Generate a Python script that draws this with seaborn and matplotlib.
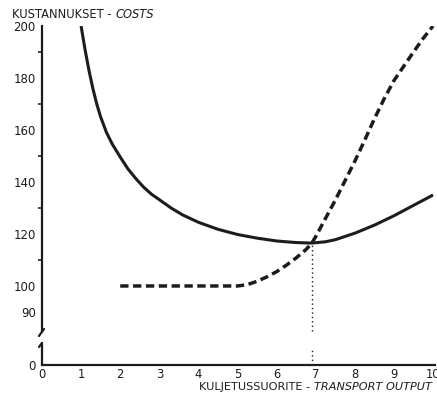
import numpy as np
import matplotlib
matplotlib.use("Agg")
import matplotlib.pyplot as plt
from matplotlib.lines import Line2D
from matplotlib.scale import FuncScale
import seaborn as sns
import pandas as pd

# ---- data ----
avg_x = [1.0, 1.1, 1.2, 1.3, 1.4, 1.5, 1.65, 1.8, 2.0, 2.2, 2.4, 2.6, 2.8, 3.0, 3.3, 3.6,
         4.0, 4.5, 5.0, 5.5, 6.0, 6.5, 6.9, 7.25, 7.5, 8.0, 8.5, 9.0, 9.5, 10.0]
avg_y = [200, 191, 183, 176, 170, 165, 159, 154.5, 149.6, 145, 141.3, 138, 135.3, 133.2, 130, 127.3,
         124.5, 121.8, 119.8, 118.4, 117.3, 116.7, 116.5, 117, 117.8, 120.3, 123.4, 127, 131, 135]

mc_x = [2.0, 3.0, 4.0, 5.0, 5.25, 5.5, 5.75, 6.0, 6.25, 6.5, 6.75, 6.9, 7.0, 7.25, 7.5,
        7.75, 8.0, 8.25, 8.5, 8.75, 9.0, 9.25, 9.5, 9.75, 10.0]
mc_y = [100, 100, 100, 100, 100.5, 101.8, 103.5, 105.5, 108, 110.8, 114, 116.5, 119, 126, 133,
        140.5, 148, 156, 164.3, 172, 179, 184.5, 190, 195.3, 200]

x_ticks = list(range(0, 11))
y_ticks = [0, 90, 100, 120, 140, 160, 180, 200]
y_minor = [110, 130, 150, 170, 190]
equilibrium_x = 6.9
equilibrium_y = 116.5

y_title = ("KUSTANNUKSET - ", "COSTS")
x_title = ("KULJETUSSUORITE - ", "TRANSPORT OUTPUT")

sns.set_theme(style="white")
plt.rcParams['font.family'] = ['DejaVu Sans']
INK = "#1c1c1c"

W, H = 437, 395
fig = plt.figure(figsize=(W / 100, H / 100), dpi=100)
fig.patch.set_facecolor("white")
ax = fig.add_axes([42 / W, 1 - 365 / H, 393 / W, (365 - 26) / H])
ax.set_facecolor("white")

# broken y axis: compress the 0..80 region
def fwd(y):
    return np.interp(y, [-1000, 0, 80, 1000], [69.6 - 130, 69.6, 80, 1000])

def inv(y):
    return np.interp(y, [69.6 - 130, 69.6, 80, 1000], [-1000, 0, 80, 1000])

ax.set_yscale(FuncScale(ax.yaxis, (fwd, inv)))
ax.set_ylim(0, 200)
ax.set_xlim(0, 10.05)

df_avg = pd.DataFrame({"x": avg_x, "y": avg_y})
df_mc = pd.DataFrame({"x": mc_x, "y": mc_y})
sns.lineplot(data=df_avg, x="x", y="y", ax=ax, color=INK, linewidth=2.2,
             errorbar=None, sort=True, solid_capstyle="butt", solid_joinstyle="round")
sns.lineplot(data=df_mc, x="x", y="y", ax=ax, color=INK, linewidth=2.5,
             errorbar=None, sort=True, linestyle=(0, (2.4, 1.3)), dash_capstyle="butt")

# dotted drop line from the intersection
ax.vlines(equilibrium_x, 82.5, equilibrium_y, colors=INK, linestyles=(0, (1, 2.2)), linewidth=1)
ax.vlines(equilibrium_x, 0, 50, colors=INK, linestyles=(0, (1, 2.2)), linewidth=1)

# axes styling
for s in ("top", "right"):
    ax.spines[s].set_visible(False)
ax.spines["left"].set_bounds(82.5, 200)
ax.spines["left"].set_linewidth(1.6)
ax.spines["bottom"].set_linewidth(1.6)
ax.spines["left"].set_color(INK)
ax.spines["bottom"].set_color(INK)

ax.set_xticks(x_ticks)
ax.set_xticklabels([str(v) for v in x_ticks])
ax.set_yticks(y_ticks)
ax.set_yticklabels([str(v) for v in y_ticks])
ax.set_yticks(y_minor, minor=True)
ax.tick_params(axis="x", direction="in", length=3, width=1.2, pad=2, labelsize=8.3, colors=INK)
ax.tick_params(axis="y", which="major", direction="out", length=3.5, width=1.2, pad=1,
               labelsize=8.5, colors=INK)
ax.tick_params(axis="y", which="minor", direction="out", length=3, width=1.2, left=True)
ax.set_xlabel("")
ax.set_ylabel("")

# axis break decoration (figure pixel coordinates)
def fpx(x, y):
    return x / W, 1 - y / H

for seg in [((42, 343), (42, 365)), ((42, 343), (39, 347)), ((39, 336), (44, 329))]:
    (x0, y0), (x1, y1) = seg
    a, b = fpx(x0, y0)
    c, d = fpx(x1, y1)
    fig.add_artist(Line2D([a, c], [b, d], transform=fig.transFigure, color=INK, lw=1.6))

# titles with mixed styles
t1 = fig.text(12 / W, 1 - 18.5 / H, y_title[0], fontsize=8.3, color=INK, va="baseline")
ax.annotate(y_title[1], xy=(1, 0), xycoords=t1, va="bottom", ha="left",
            fontsize=8.3, style="italic", color=INK)
t2 = fig.text(199 / W, 1 - 390 / H, x_title[0], fontsize=8.1, color=INK, va="baseline")
ax.annotate(x_title[1], xy=(1, 0), xycoords=t2, va="bottom", ha="left",
            fontsize=8.1, style="italic", color=INK)

fig.savefig("out.png", dpi=100, facecolor="white")
